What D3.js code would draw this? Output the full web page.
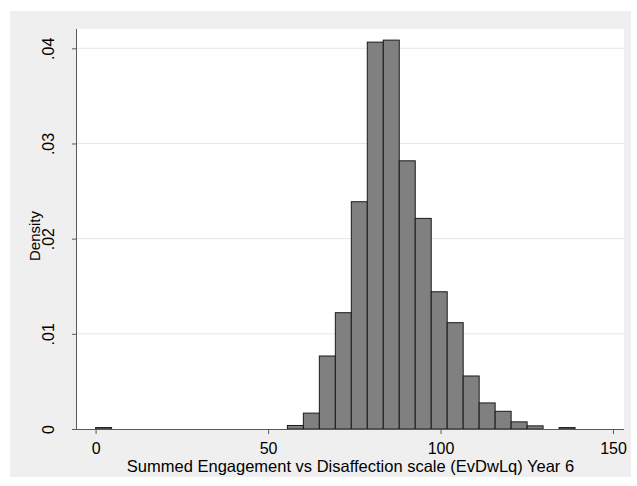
<!DOCTYPE html>
<html>
<head>
<meta charset="utf-8">
<script src="https://cdn.jsdelivr.net/npm/d3@7"></script>
<style>
  html, body { margin: 0; padding: 0; background: #ffffff; }
  svg { display: block; }
  text { font-family: "Liberation Sans", Arial, sans-serif; fill: #000; }
</style>
</head>
<body>
<svg id="chart" width="637" height="486"></svg>
<script>
// Histogram: 30 bins from 0 to 139
const binStart = 0;
const binWidth = 139 / 30;
const densities = [
  0.00015, 0, 0, 0, 0, 0, 0, 0, 0, 0,
  0, 0, 0.00037, 0.00167, 0.00767, 0.01222, 0.02388, 0.04065, 0.04086, 0.02818,
  0.02213, 0.01442, 0.01117, 0.00557, 0.00274, 0.00186, 0.00075, 0.00033, 0, 0.00015
];
const xTicks = [0, 50, 100, 150];
const yTicks = [0, 0.01, 0.02, 0.03, 0.04];
const yTickLabels = ["0", ".01", ".02", ".03", ".04"];
const xTitle = "Summed Engagement vs Disaffection scale (EvDwLq) Year 6";
const yTitle = "Density";

const FS = 16;
const svg = d3.select("#chart");

// outer graph region
svg.append("rect").attr("x", 10).attr("y", 11).attr("width", 621).attr("height", 466)
  .attr("fill", "#efefef");

const plot = { left: 77, right: 624, top: 29, bottom: 429 };
svg.append("rect").attr("x", plot.left).attr("y", plot.top)
  .attr("width", plot.right - plot.left).attr("height", plot.bottom - plot.top)
  .attr("fill", "#ffffff");

const x = d3.scaleLinear().domain([0, 150]).range([95.6, 613]);
const y = d3.scaleLinear().domain([0, 0.04]).range([429, 48.3]);

// gridlines
svg.append("g").selectAll("line").data(yTicks.slice(1)).join("line")
  .attr("x1", plot.left).attr("x2", plot.right)
  .attr("y1", d => y(d)).attr("y2", d => y(d))
  .attr("stroke", "#e6e6e6").attr("stroke-width", 1);

// bars
const bins = densities.map((d, i) => ({ x0: binStart + i * binWidth, x1: binStart + (i + 1) * binWidth, d }));
svg.append("g").selectAll("rect").data(bins.filter(b => b.d > 0)).join("rect")
  .attr("x", b => x(b.x0))
  .attr("width", b => x(b.x1) - x(b.x0))
  .attr("y", b => y(b.d))
  .attr("height", b => y(0) - y(b.d))
  .attr("fill", "#808080")
  .attr("stroke", "#1a1a1a")
  .attr("stroke-width", 1);

// x axis
const xAxis = d3.axisBottom(x).tickValues(xTicks).tickSize(5).tickPadding(3).tickFormat(d3.format("d"));
const gx = svg.append("g").attr("transform", `translate(0,${plot.bottom})`).call(xAxis);
gx.select(".domain").attr("d", `M${plot.left},0.5H${plot.right}`).attr("stroke", "#5a5a5a");
gx.selectAll(".tick line").attr("stroke", "#5a5a5a");
gx.selectAll(".tick text").attr("font-size", FS).attr("font-family", "Liberation Sans, Arial, sans-serif").attr("fill", "#000")
  .attr("y", 25).attr("dy", null);

// y axis
const yAxis = d3.axisLeft(y).tickValues(yTicks).tickSize(5).tickFormat((d, i) => yTickLabels[i]);
const gy = svg.append("g").attr("transform", `translate(${plot.left},0)`).call(yAxis);
gy.select(".domain").attr("d", `M-0.5,${plot.top}V${plot.bottom}`).attr("stroke", "#5a5a5a");
gy.selectAll(".tick line").attr("stroke", "#5a5a5a");
gy.selectAll(".tick text")
  .attr("font-size", FS).attr("font-family", "Liberation Sans, Arial, sans-serif").attr("fill", "#000")
  .attr("x", null).attr("dy", null)
  .attr("text-anchor", "middle")
  .attr("transform", "translate(-23,0) rotate(-90)")
  .attr("y", 0);

// titles
svg.append("text").attr("x", (plot.left + plot.right) / 2).attr("y", 471.5).attr("text-anchor", "middle")
  .attr("font-size", 16.5).text(xTitle);
svg.append("text").attr("transform", `translate(40,${(plot.top + plot.bottom) / 2 + 7}) rotate(-90)`)
  .attr("text-anchor", "middle").attr("font-size", 15).text(yTitle);
</script>
</body>
</html>
